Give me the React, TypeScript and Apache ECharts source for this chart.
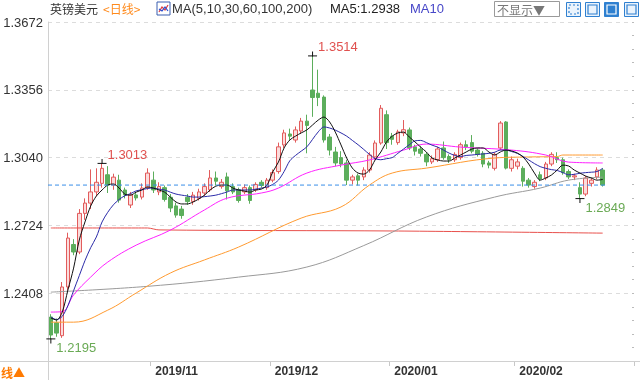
import React, { useEffect, useRef } from "react";
import * as echarts from "echarts";

const categories = [
  "2019/10/08","2019/10/09","2019/10/10","2019/10/11","2019/10/14","2019/10/15","2019/10/16","2019/10/17","2019/10/18","2019/10/21",
  "2019/10/22","2019/10/23","2019/10/24","2019/10/25","2019/10/28","2019/10/29","2019/10/30","2019/10/31",
  "2019/11/01","2019/11/04","2019/11/05","2019/11/06","2019/11/07","2019/11/08","2019/11/11","2019/11/12","2019/11/13","2019/11/14",
  "2019/11/15","2019/11/18","2019/11/19","2019/11/20","2019/11/21","2019/11/22","2019/11/25","2019/11/26","2019/11/27","2019/11/28","2019/11/29",
  "2019/12/02","2019/12/03","2019/12/04","2019/12/05","2019/12/06","2019/12/09","2019/12/10","2019/12/11","2019/12/12","2019/12/13",
  "2019/12/16","2019/12/17","2019/12/18","2019/12/19","2019/12/20","2019/12/23","2019/12/24","2019/12/26","2019/12/27","2019/12/30","2019/12/31",
  "2020/01/02","2020/01/03","2020/01/06","2020/01/07","2020/01/08","2020/01/09","2020/01/10","2020/01/13","2020/01/14","2020/01/15",
  "2020/01/16","2020/01/17","2020/01/20","2020/01/21","2020/01/22","2020/01/23","2020/01/24","2020/01/27","2020/01/28","2020/01/29","2020/01/30","2020/01/31",
  "2020/02/03","2020/02/04","2020/02/05","2020/02/06","2020/02/07","2020/02/10","2020/02/11","2020/02/12","2020/02/13","2020/02/14",
  "2020/02/17","2020/02/18","2020/02/19","2020/02/20","2020/02/21","2020/02/24",
  "2020/02/25","2020/02/26","2020/02/27","2020/02/28","2020/03/02"
];

// [open, close, low, high]
const candles = [
  [1.2297,1.2213,1.2195,1.2310],[1.2270,1.2222,1.2205,1.2290],[1.2210,1.2437,1.2200,1.2460],[1.2437,1.2665,1.2420,1.2690],
  [1.2635,1.2600,1.2585,1.2660],[1.2600,1.2780,1.2590,1.2800],[1.2780,1.2828,1.2750,1.2850],[1.2828,1.2880,1.2800,1.2985],
  [1.2880,1.2925,1.2860,1.2990],[1.2920,1.2990,1.2900,1.3013],[1.2960,1.2912,1.2875,1.3000],[1.2912,1.2949,1.2890,1.2965],
  [1.2935,1.2842,1.2830,1.2960],[1.2889,1.2866,1.2850,1.2900],[1.2819,1.2866,1.2805,1.2880],[1.2866,1.2852,1.2840,1.2880],
  [1.2856,1.2898,1.2845,1.2920],[1.2903,1.2968,1.2890,1.2990],
  [1.2935,1.2889,1.2875,1.2975],[1.2880,1.2905,1.2865,1.2925],[1.2900,1.2845,1.2835,1.2910],[1.2855,1.2805,1.2786,1.2870],
  [1.2815,1.2772,1.2760,1.2830],[1.2800,1.2770,1.2755,1.2815],[1.2855,1.2835,1.2820,1.2870],[1.2835,1.2865,1.2820,1.2880],
  [1.2850,1.2880,1.2840,1.2895],[1.2875,1.2905,1.2860,1.2920],[1.2890,1.2945,1.2880,1.2982],[1.2945,1.2930,1.2910,1.2975],
  [1.2905,1.2925,1.2895,1.2940],[1.2950,1.2885,1.2845,1.2970],[1.2905,1.2880,1.2870,1.2920],[1.2890,1.2840,1.2830,1.2900],
  [1.2880,1.2900,1.2870,1.2915],[1.2900,1.2840,1.2825,1.2910],[1.2890,1.2915,1.2880,1.2925],[1.2925,1.2910,1.2900,1.2935],
  [1.2900,1.2935,1.2890,1.2945],
  [1.2935,1.2970,1.2925,1.2985],[1.2975,1.3090,1.2965,1.3110],[1.3099,1.3155,1.3085,1.3170],[1.3150,1.3140,1.3120,1.3175],
  [1.3122,1.3169,1.3110,1.3185],[1.3164,1.3210,1.3150,1.3225],[1.3210,1.3190,1.3060,1.3240],[1.3355,1.3320,1.3230,1.3514],
  [1.3340,1.3320,1.3280,1.3450],[1.3322,1.3122,1.3110,1.3330],[1.3136,1.3075,1.3050,1.3150],[1.3066,1.3015,1.3000,1.3090],
  [1.3040,1.3010,1.2995,1.3070],[1.3015,1.2935,1.2912,1.3030],[1.2935,1.2950,1.2915,1.2960],[1.2955,1.2935,1.2910,1.2965],
  [1.2950,1.2982,1.2935,1.2995],[1.2982,1.3052,1.2970,1.3065],[1.3043,1.3108,1.3030,1.3120],[1.3108,1.3270,1.3100,1.3285],
  [1.3240,1.3110,1.3080,1.3260],
  [1.3140,1.3125,1.3100,1.3155],[1.3110,1.3160,1.3100,1.3170],[1.3155,1.3170,1.3140,1.3215],[1.3169,1.3085,1.3075,1.3180],
  [1.3090,1.3070,1.3050,1.3100],[1.3080,1.3060,1.3045,1.3095],[1.3055,1.3020,1.3000,1.3065],[1.3020,1.3035,1.3010,1.3050],
  [1.3030,1.3080,1.3020,1.3090],[1.3085,1.3040,1.3030,1.3115],[1.3045,1.3030,1.3015,1.3055],[1.3030,1.3055,1.3020,1.3065],
  [1.3040,1.3100,1.3030,1.3110],[1.3100,1.3090,1.3075,1.3120],[1.3110,1.3070,1.3060,1.3145],[1.3075,1.3055,1.3045,1.3085],
  [1.3060,1.3010,1.2995,1.3070],[1.3015,1.3005,1.2990,1.3025],[1.2990,1.3055,1.2980,1.3065],[1.3085,1.3201,1.3075,1.3210],
  [1.3206,1.2991,1.2985,1.3210],[1.2990,1.3030,1.2975,1.3045],
  [1.3000,1.3020,1.2985,1.3035],[1.2990,1.2930,1.2905,1.3000],[1.2935,1.2912,1.2900,1.2945],[1.2905,1.2925,1.2895,1.2935],
  [1.2960,1.2940,1.2930,1.2975],[1.2945,1.3010,1.2935,1.3020],[1.3010,1.3055,1.3000,1.3065],[1.3040,1.3030,1.3015,1.3065],
  [1.3030,1.2970,1.2960,1.3040],[1.2975,1.2950,1.2940,1.2985],[1.2950,1.2955,1.2935,1.2965],[1.2900,1.2870,1.2849,1.2925],
  [1.2870,1.2945,1.2860,1.2955],[1.2920,1.2935,1.2905,1.2945],[1.2950,1.2982,1.2940,1.2995],[1.2982,1.2912,1.2905,1.2990]
];

const ma5 = [
  1.2292,1.2283,1.2320,1.2423,1.2525,1.2656,1.2740,1.2814,1.2861,1.2889,
  1.2912,1.2917,1.2898,1.2870,1.2865,1.2879,1.2889,1.2903,1.2898,1.2889,
  1.2879,1.2856,1.2833,1.2824,1.2824,1.2833,1.2847,1.2865,1.2889,1.2907,
  1.2912,1.2912,1.2898,1.2889,1.2884,1.2879,1.2889,1.2893,1.2912,1.2973,
  1.3019,1.3085,1.3122,1.3140,1.3155,1.3169,1.3192,1.3215,1.3229,1.3206,
  1.3159,1.3099,1.3038,1.2991,1.2968,1.2963,1.2982,1.3029,1.3066,1.3113,
  1.3140,1.3155,1.3159,1.3136,1.3113,1.3089,1.3066,1.3038,1.3029,1.3024,
  1.3024,1.3038,1.3052,1.3066,1.3080,1.3085,1.3085,1.3066,1.3052,1.3066,
  1.3075,1.3071,1.3061,1.3043,1.3010,1.2968,1.2935,1.2945,1.2959,1.2982,
  1.3005,1.3001,1.2982,1.2968,1.2954,1.2945,1.2935,1.2938
];

const ma10 = [
  1.2297,1.2285,1.2300,1.2350,1.2420,1.2490,1.2560,1.2620,1.2670,1.2740,
  1.2785,1.2820,1.2845,1.2862,1.2872,1.2885,1.2890,1.2896,1.2898,1.2893,
  1.2889,1.2879,1.2870,1.2865,1.2861,1.2856,1.2856,1.2858,1.2861,1.2865,
  1.2872,1.2880,1.2889,1.2889,1.2889,1.2889,1.2893,1.2898,1.2903,1.2915,
  1.2935,1.2975,1.3025,1.3050,1.3070,1.3090,1.3125,1.3160,1.3183,1.3178,
  1.3168,1.3155,1.3140,1.3120,1.3100,1.3078,1.3055,1.3035,1.3030,1.3035,
  1.3040,1.3060,1.3080,1.3100,1.3118,1.3120,1.3110,1.3098,1.3089,1.3075,
  1.3061,1.3050,1.3045,1.3050,1.3052,1.3055,1.3057,1.3060,1.3065,1.3075,
  1.3075,1.3068,1.3060,1.3045,1.3029,1.3012,1.2998,1.2990,1.2984,1.2980,
  1.2970,1.2960,1.2962,1.2967,1.2970,1.2972,1.2975,1.2990
];

// [index, value] readings of the smoother averages
const ma30Pts = [[0,1.2320],[2,1.2322],[4,1.2400],[7,1.2483],[10,1.2553],[15,1.2632],[21,1.2702],[27,1.2796],[31,1.2851],[37,1.2875],[40,1.2898],[45,1.2968],[51,1.3005],[56,1.3029],[62,1.3075],[66,1.3103],[72,1.3089],[81,1.3075],[87,1.3052],[91,1.3019],[97,1.3015]];
const ma60Pts = [[0,1.2273],[4,1.2273],[10,1.2329],[15,1.2409],[21,1.2502],[27,1.2563],[33,1.2623],[44,1.2758],[51,1.2810],[56,1.2912],[60,1.2968],[66,1.2991],[78,1.3038],[84,1.3043],[89,1.3045],[90,1.3052],[97,1.3052]];
const ma100Pts = [[0,1.2413],[17,1.2440],[33,1.2483],[45,1.2530],[55,1.2630],[66,1.2763],[78,1.2856],[86,1.2898],[91,1.2935],[97,1.2949]];
const ma200Pts = [[0,1.2712],[17,1.2712],[19,1.2703],[60,1.2698],[97,1.2688]];

const yMin = 1.2092;
const yMax = 1.3672;
const yStep = 0.0316;

const monthStarts = [18, 39, 60, 82];
const monthLabels = ["2019/11", "2019/12", "2020/01", "2020/02"];

const extremes = [
  { i: 9, v: 1.3013, high: true },
  { i: 46, v: 1.3514, high: true },
  { i: 0, v: 1.2195, high: false },
  { i: 93, v: 1.2849, high: false },
];

const fullFrom = (pts: number[][]) => {
  const arr: (number | null)[] = categories.map(() => null);
  pts.forEach(([i, v]) => { arr[i] = v; });
  return arr;
};

const maLine = (name: string, data: (number | null)[], color: string, smooth: boolean | number = false) => ({
  name,
  type: "line",
  data,
  showSymbol: false,
  symbol: "none",
  connectNulls: true,
  smooth,
  lineStyle: { color, width: 1 },
  itemStyle: { color },
  z: 3,
});

export default function App() {
  const ref = useRef<HTMLDivElement>(null);
  useEffect(() => {
    if (!ref.current) return;
    const chart = echarts.init(ref.current, null, { renderer: "svg" });
    const font = "Arial, 'Liberation Sans', sans-serif";
    const option: any = {
      animation: false,
      textStyle: { fontFamily: font },
      grid: { left: 48, right: 6, top: 22, bottom: 19 },
      xAxis: {
        type: "category",
        data: categories,
        boundaryGap: true,
        axisLine: { show: true, lineStyle: { color: "#d0d0d0" } },
        axisTick: {
          show: true,
          interval: (idx: number) => monthStarts.includes(idx),
          length: 5,
          lineStyle: { color: "#c8c8c8" },
        },
        axisLabel: {
          interval: (idx: number) => monthStarts.includes(idx),
          formatter: (_v: string, idx: number) => {
            const k = monthStarts.indexOf(idx);
            return k >= 0 ? monthLabels[k] : "";
          },
          align: "left",
          verticalAlign: "middle",
          margin: 10,
          padding: [0, 0, 0, 2],
          color: "#333",
          fontSize: 12,
          fontWeight: "bold",
          fontFamily: font,
        },
        splitLine: { show: false },
      },
      yAxis: [
        {
          type: "value",
          min: yMin,
          max: yMax,
          interval: yStep,
          position: "left",
          axisLine: { show: true, lineStyle: { color: "#d0d0d0" } },
          axisTick: { show: false },
          axisLabel: {
            color: "#333",
            fontSize: 13,
            fontFamily: font,
            margin: 5,
            formatter: (v: number) => (Math.abs(v - yMin) < 1e-6 ? "" : v.toFixed(4)),
          },
          splitLine: { show: true, lineStyle: { color: "#dcdcdc", type: [4, 4] } },
        },
        {
          type: "value",
          min: yMin,
          max: yMax,
          interval: yStep,
          position: "right",
          axisLine: { show: false },
          axisLabel: { show: false },
          axisTick: { show: true, inside: true, length: 2, lineStyle: { color: "#bbb" } },
          minorTick: { show: true, splitNumber: 5, length: 2, lineStyle: { color: "#bbb" } },
          splitLine: { show: false },
        },
      ],
      series: [
        {
          name: "K",
          type: "candlestick",
          data: candles,
          barWidth: 4,
          itemStyle: {
            color: "#fbdcdc",
            color0: "#5cae5c",
            borderColor: "#e25c5c",
            borderColor0: "#5cae5c",
            borderWidth: 1,
          },
          z: 2,
          markPoint: {
            symbol: "rect",
            silent: true,
            data: [
              ...extremes.map((e) => ({
                coord: [e.i, e.v],
                symbol: "rect",
                symbolSize: [9, 1],
                itemStyle: { color: "#111" },
                label: {
                  show: true,
                  formatter: e.v.toFixed(4),
                  position: "right",
                  distance: 1,
                  offset: [0, e.high ? -9 : 9],
                  color: e.high ? "#e0514f" : "#6aaa55",
                  fontSize: 13,
                  fontFamily: font,
                },
              })),
              ...extremes.map((e) => ({
                coord: [e.i, e.v],
                symbol: "rect",
                symbolSize: [1, 5],
                symbolOffset: [0, e.high ? -2 : 2],
                itemStyle: { color: "#111" },
                label: { show: false },
              })),
            ],
          },
        },
        maLine("MA200", fullFrom(ma200Pts), "#e8504c", 0.3),
        maLine("MA100", fullFrom(ma100Pts), "#9a9a9a", 0.4),
        maLine("MA60", fullFrom(ma60Pts), "#ff9a30", 0.4),
        maLine("MA30", fullFrom(ma30Pts), "#ff22ff", 0.4),
        maLine("MA10", ma10, "#2b2ba8", 0.3),
        maLine("MA5", ma5, "#111111", 0.3),
      ],
    };
    chart.setOption(option);

    const lastClose = candles[candles.length - 1][1];
    const py = chart.convertToPixel({ yAxisIndex: 0 }, lastClose) as number;
    const cjk = "'Noto Sans CJK SC', sans-serif";
    chart.setOption({
      graphic: [
        { type: "line", shape: { x1: 48, y1: py, x2: 607, y2: py }, style: { stroke: "#3a8ee8", lineWidth: 1, lineDash: [4, 3] }, z: 10 },
        { type: "line", shape: { x1: 0, y1: 361.5, x2: 640, y2: 361.5 }, style: { stroke: "#d0d0d0", lineWidth: 1 }, z: 1 },
        { type: "line", shape: { x1: 48.5, y1: 361, x2: 48.5, y2: 380 }, style: { stroke: "#d0d0d0", lineWidth: 1 }, z: 1 },
        { type: "text", x: 1, y: 372, style: { text: "线▲", fill: "#ff7a00", font: `bold 12px ${cjk}`, verticalAlign: "middle" } },
        { type: "text", x: 50, y: 2, style: { text: "英镑美元", fill: "#333", font: `12px ${cjk}` } },
        { type: "text", x: 103, y: 2, style: { text: "<日线>", fill: "#ff8a1c", font: `12px ${cjk}` } },
        {
          type: "group", x: 157, y: 2,
          children: [
            { type: "rect", shape: { x: 0, y: 0, width: 13, height: 13 }, style: { fill: "#fff", stroke: "#3a5fb0", lineWidth: 1 } },
            { type: "polyline", shape: { points: [[2, 10], [5, 5], [8, 8], [11, 3]] }, style: { stroke: "#e23c3c", lineWidth: 1.2, fill: "none" } },
            { type: "polyline", shape: { points: [[2, 7], [5, 9], [8, 5], [11, 9]] }, style: { stroke: "#2b4fd0", lineWidth: 1.2, fill: "none" } },
          ],
        },
        { type: "text", x: 172, y: 2, style: { text: "MA(5,10,30,60,100,200)", fill: "#333", font: `13px ${font}` } },
        { type: "text", x: 330, y: 2, style: { text: "MA5:1.2938", fill: "#222", font: `13px ${font}` } },
        { type: "text", x: 410, y: 2, style: { text: "MA10", fill: "#4747c8", font: `13px ${font}` } },
        { type: "rect", shape: { x: 494.5, y: 1.5, width: 65, height: 15 }, style: { fill: "#fff", stroke: "#9a9a9a", lineWidth: 1 } },
        { type: "text", x: 497, y: 3, style: { text: "不显示▼", fill: "#777", font: `12px ${cjk}` } },
        ...[566, 585, 604, 624].map((bx, k) => ({
          type: "group", x: bx, y: 2,
          children: [
            { type: "rect", shape: { x: 0.5, y: 0.5, width: 14, height: 14 }, style: { fill: k === 2 ? "#2f80d0" : "#eaf3fc", stroke: "#2f80d0", lineWidth: 1 } },
            { type: "rect", shape: { x: 3, y: 3, width: 9, height: 9 }, style: { fill: "none", stroke: k === 2 ? "#fff" : "#2f80d0", lineWidth: 1.2, lineDash: k === 0 ? [2, 2] : null } },
          ],
        })),
      ],
    });
    return () => chart.dispose();
  }, []);
  return <div ref={ref} style={{ position: "fixed", left: 0, top: 0, width: 640, height: 380 }} />;
}
